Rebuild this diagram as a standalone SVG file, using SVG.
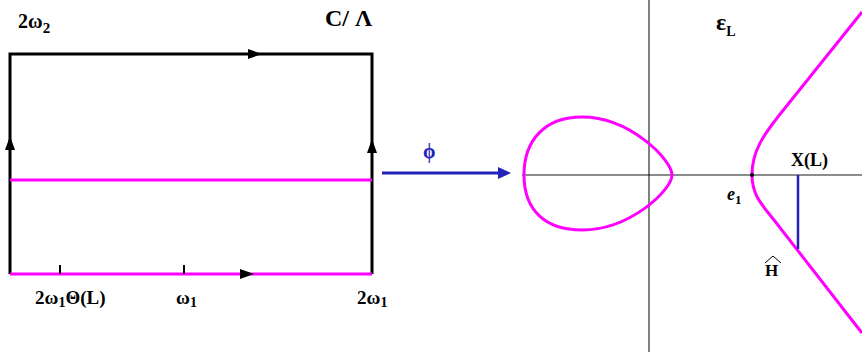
<svg xmlns="http://www.w3.org/2000/svg" width="862" height="352" viewBox="0 0 862 352">
<defs>
<style>
.t{font-family:"Liberation Serif","Times New Roman",serif;font-weight:bold;fill:#000}
.blk{stroke:#000;stroke-width:3;fill:none}
.mag{stroke:#ff00ff;stroke-width:3;fill:none}
.ax{stroke:#000;stroke-width:1;fill:none}
</style>
</defs>
<rect width="862" height="352" fill="#fff"/>
<g id="torus">
<path class="blk" d="M10,274 L10,54 L372,54 L372,274"/>
<line class="mag" x1="10" y1="180" x2="372" y2="180"/>
<line class="mag" x1="10" y1="274" x2="372" y2="274"/>
<path d="M248,49 L262,54 L248,59 z" fill="#000"/>
<path d="M240,269 L254,274 L240,279 z" fill="#000"/>
<path d="M5,150 L10,136 L15,150 z" fill="#000"/>
<path d="M367,153 L372,139 L377,153 z" fill="#000"/>
<line x1="60" y1="265" x2="60" y2="274" stroke="#000" stroke-width="2"/>
<line x1="184" y1="265" x2="184" y2="274" stroke="#000" stroke-width="2"/>
<text class="t" x="18" y="28" font-size="20">2ω<tspan font-size="15" dy="5">2</tspan></text>
<text class="t" x="325" y="26" font-size="24">C/ Λ</text>
<text class="t" x="35" y="304" font-size="19">2ω<tspan font-size="14" dy="3">1</tspan><tspan dy="-3">Θ(L)</tspan></text>
<text class="t" x="176" y="304" font-size="19">ω<tspan font-size="14" dy="3">1</tspan></text>
<text class="t" x="357" y="304" font-size="19">2ω<tspan font-size="14" dy="3">1</tspan></text>
</g>
<g id="map">
<line x1="382" y1="173" x2="500" y2="173" stroke="#2222bb" stroke-width="3"/>
<path d="M498,167 L511,173 L498,179 z" fill="#2222bb"/>
<text x="423" y="158" font-family="Liberation Serif,serif" font-weight="bold" font-size="20" fill="#2222bb">ϕ</text>
</g>
<g id="axes">
<line x1="522" y1="175" x2="862" y2="175" stroke="#666" stroke-width="1.5"/>
<line class="ax" x1="649" y1="0" x2="649" y2="352"/>
</g>
<g id="curve">
<path class="mag" d="M672,175 C672,160 630,117 582,117 C545,117 524,140 524,175 C524,210 545,230 582,230 C630,230 672,190 672,175 Z"/>
<path class="mag" d="M862,12 L785,108 C762,136 752,152 752,175 C752,195 762,205 774,220 L862,333"/>
<circle cx="752" cy="175" r="2" fill="#000"/>
<line x1="798" y1="175" x2="798" y2="249" stroke="#2222bb" stroke-width="2.5"/>
<text class="t" x="716" y="30" font-size="24">ε<tspan font-size="14" dy="6">L</tspan></text>
<text class="t" x="791" y="166" font-size="18">X(L)</text>
<text class="t" x="727" y="200" font-size="18" font-style="italic">e<tspan font-size="13" dy="4" font-style="normal">1</tspan></text>
<text class="t" x="765" y="276" font-size="17">H</text>
<path d="M765,263 L773,256 L781,263" stroke="#000" stroke-width="1" fill="none"/>
</g>
</svg>
